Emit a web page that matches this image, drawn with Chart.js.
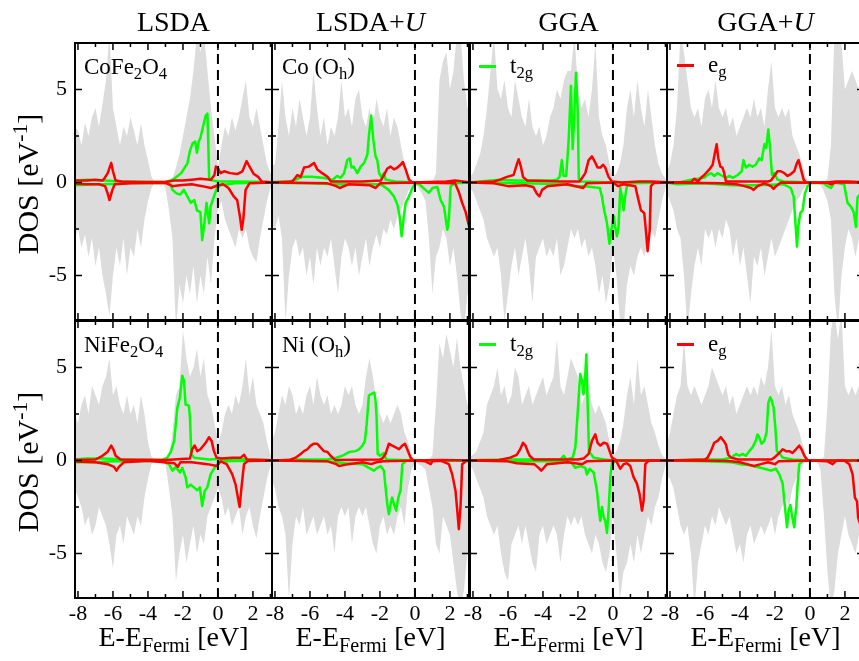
<!DOCTYPE html>
<html>
<head>
<meta charset="utf-8">
<title>DOS CoFe2O4 / NiFe2O4</title>
<script src="https://cdn.jsdelivr.net/npm/chart.js@4.4.1/dist/chart.umd.min.js"></script>
<style>
  html, body { margin: 0; padding: 0; background: #fff; overflow: hidden; }
  #fig { position: relative; width: 859px; height: 661px; overflow: hidden; }
  #fig canvas { position: absolute; left: 0; top: 0; }
  .t { position: absolute; font-family: "Liberation Serif", "Times New Roman", serif; color: #000; white-space: nowrap; line-height: 1; z-index: 2; }
  .t sub { font-size: 72%; vertical-align: baseline; position: relative; top: 0.3em; }
  .t sup { font-size: 72%; vertical-align: baseline; position: relative; top: -0.5em; }
  .ttl { top: 8px; width: 197px; text-align: center; font-size: 28px; }
  .xt { top: 623px; width: 197px; text-align: center; font-size: 28px; }
  .yl { left: 28px; font-size: 30px; transform: translate(-50%, -50%) rotate(-90deg); }
  .pl { font-size: 23px; }
  .seg { position: absolute; width: 17px; height: 3px; z-index: 2; }
</style>
</head>
<body>
<div id="fig">
  <canvas id="c0" width="880" height="661"></canvas>
  <canvas id="c1" width="880" height="661"></canvas>
  <canvas id="c2" width="880" height="661"></canvas>
  <canvas id="c3" width="880" height="661"></canvas>
  <canvas id="c4" width="880" height="661"></canvas>
  <canvas id="c5" width="880" height="661"></canvas>
  <canvas id="c6" width="880" height="661"></canvas>
  <canvas id="c7" width="880" height="661"></canvas>

  <div class="t ttl" style="left:75px">LSDA</div>
  <div class="t ttl" style="left:272px">LSDA+<i>U</i></div>
  <div class="t ttl" style="left:470px">GGA</div>
  <div class="t ttl" style="left:667px">GGA+<i>U</i></div>

  <div class="t yl" style="top:184px">DOS [eV<sup>-1</sup>]</div>
  <div class="t yl" style="top:462px">DOS [eV<sup>-1</sup>]</div>

  <div class="t xt" style="left:75px">E-E<sub>Fermi</sub> [eV]</div>
  <div class="t xt" style="left:272px">E-E<sub>Fermi</sub> [eV]</div>
  <div class="t xt" style="left:470px">E-E<sub>Fermi</sub> [eV]</div>
  <div class="t xt" style="left:667px">E-E<sub>Fermi</sub> [eV]</div>

  <div class="t pl" style="left:84px;top:55px">CoFe<sub>2</sub>O<sub>4</sub></div>
  <div class="t pl" style="left:282px;top:55px">Co (O<sub>h</sub>)</div>
  <div class="t pl" style="left:84px;top:333px">NiFe<sub>2</sub>O<sub>4</sub></div>
  <div class="t pl" style="left:282px;top:333px">Ni (O<sub>h</sub>)</div>

  <div class="seg" style="left:479px;top:65px;background:#00ff00"></div>
  <div class="t pl" style="left:510px;top:54px">t<sub>2g</sub></div>
  <div class="seg" style="left:677px;top:64px;background:#ff0000"></div>
  <div class="t pl" style="left:708px;top:53px">e<sub>g</sub></div>
  <div class="seg" style="left:479px;top:343px;background:#00ff00"></div>
  <div class="t pl" style="left:510px;top:332px">t<sub>2g</sub></div>
  <div class="seg" style="left:677px;top:343px;background:#ff0000"></div>
  <div class="t pl" style="left:708px;top:332px">e<sub>g</sub></div>
</div>

<script>
// energy grid for the total DOS (eV)
const energyGrid = [-8.2,-8.0,-7.8,-7.6,-7.4,-7.2,-7.0,-6.8,-6.6,-6.4,
  -6.2,-6.0,-5.8,-5.6,-5.4,-5.2,-5.0,-4.8,-4.6,-4.4,
  -4.2,-4.0,-3.8,-3.6,-3.4,-3.2,-3.0,-2.8,-2.6,-2.4,
  -2.2,-2.0,-1.8,-1.6,-1.4,-1.2,-1.0,-0.8,-0.6,-0.4,
  -0.2,0.0,0.2,0.4,0.6,0.8,1.0,1.2,1.4,1.6,
  1.8,2.0,2.2,2.4,2.6,2.8,3.0,3.2];

const xTickLabels = [-8, -6, -4, -2, 0, 2];
const yTickLabels = [-5, 0, 5];
const xTickMarks = [-8, -7, -6, -5, -4, -3, -2, -1, 0, 1, 2, 3];
const yTickMarks = [-5, -2.5, 0, 2.5, 5];
const fermiLevel = 0;

// ---- CoFe2O4, LSDA ----
const totUp_CoLSDA = [3.0,2.8,2.0,3.2,2.5,3.5,4.0,3.0,4.2,5.5, 8.0,4.0,3.0,2.0,3.0,2.5,3.5,2.8,2.0,3.2, 2.0,1.2,0.3,0,0,0,0,0,0.2,0.8, 1.5,2.5,3.5,4.5,6.0,8.0,7.0,8.0,6.0,4.0, 2.5,0.8,2.0,3.0,2.5,3.5,2.8,3.5,4.5,5.5, 3.5,3.0,4.0,3.0,2.0,1.0,0.5,0.3];
const totDn_CoLSDA = [-3.0,-2.5,-3.5,-2.8,-4.0,-3.0,-4.5,-3.5,-5.0,-6.0, -7.2,-5.0,-3.5,-4.5,-3.0,-5.0,-3.5,-4.0,-2.5,-3.5, -2.0,-1.0,-0.3,0,0,0,-0.3,-1.5,-3.0,-8.0, -5.5,-6.5,-5.0,-6.0,-4.5,-6.5,-5.0,-6.0,-4.0,-5.5, -3.0,-1.5,-1.0,-2.0,-2.5,-3.0,-3.5,-2.5,-3.0,-2.5, -3.5,-4.0,-4.3,-3.0,-2.0,-1.0,-0.3,-0.2];
const t2gUp_CoLSDA = [[-8.2,0.1],[-7.5,0.15],[-6.5,0.1],[-5.5,0.05],[-4,0.02],[-3,0.02],[-2.7,0.1],[-2.5,0.2],[-2.3,0.35],[-2.1,0.5],[-1.9,0.8],[-1.75,1.0],[-1.6,1.7],[-1.45,2.1],[-1.3,2.2],[-1.2,1.6],[-1.1,2.2],[-1.0,2.4],[-0.85,3.0],[-0.7,3.6],[-0.6,3.7],[-0.55,2.0],[-0.5,0.15],[-0.3,0.1],[0,0.05],[1,0.05],[2,0.03],[3.2,0]];
const t2gDn_CoLSDA = [[-8.2,-0.15],[-7,-0.1],[-6,-0.08],[-5,-0.03],[-3,-0.02],[-2.7,-0.1],[-2.6,-0.4],[-2.35,-0.6],[-2.15,-0.65],[-1.95,-0.4],[-1.75,-0.75],[-1.55,-1.1],[-1.35,-0.95],[-1.2,-1.5],[-1.0,-1.6],[-0.9,-3.1],[-0.8,-2.4],[-0.65,-1.1],[-0.57,-1.7],[-0.5,-2.2],[-0.42,-1.3],[-0.23,-0.75],[-0.05,-0.3],[0.15,-0.15],[1,-0.05],[3.2,0]];
const egUp_CoLSDA = [[-8.2,0.1],[-7.5,0.1],[-7,0.15],[-6.6,0.1],[-6.5,0.2],[-6.3,0.5],[-6.1,1.05],[-6.0,0.6],[-5.85,0.1],[-5.5,0.05],[-4.5,0.02],[-3,0.02],[-2.5,0.1],[-2,0.1],[-1.5,0.15],[-1,0.2],[-0.4,0.15],[-0.2,0.4],[-0.12,0.85],[-0.02,0.8],[0.15,0.5],[0.35,0.6],[0.7,0.5],[1.1,0.45],[1.4,0.6],[1.64,1.15],[1.75,0.95],[2.05,0.45],[2.3,0.3],[2.5,0.05],[3.2,0]];
const egDn_CoLSDA = [[-8.2,-0.05],[-7.5,-0.1],[-6.8,-0.1],[-6.45,-0.2],[-6.3,-0.6],[-6.2,-0.95],[-6.05,-0.45],[-5.9,-0.1],[-5,-0.05],[-3,-0.02],[-2.6,-0.2],[-2.2,-0.15],[-1.5,-0.1],[-0.9,-0.2],[-0.4,-0.3],[0,-0.15],[0.3,-0.1],[0.6,-0.3],[0.9,-0.75],[1.1,-0.95],[1.25,-1.8],[1.36,-2.55],[1.45,-2.0],[1.58,-0.4],[1.8,-0.05],[3.2,0]];

// ---- Co (Oh), LSDA+U ----
const totUp_CoLSDAU = [0.8,1.0,3.0,5.5,3.5,2.5,4.0,3.0,4.5,3.5, 2.5,3.5,6.0,4.0,2.5,3.5,2.0,3.0,2.5,3.5, 5.5,3.5,4.0,3.0,4.5,5.0,3.5,3.0,4.0,3.0, 4.5,3.5,3.0,4.0,2.5,3.5,3.0,2.0,1.0,0.4, 0.1,0,0,0,0,0,0,0.5,5.5,6.5, 7.0,5.0,6.0,8.0,8.0,5.5,4.0,4.0];
const totDn_CoLSDAU = [-2.2,-2.5,-1.8,-3.0,-7.5,-5.0,-3.5,-3.0,-4.0,-3.5, -5.0,-4.0,-5.5,-3.5,-4.5,-3.5,-4.0,-3.0,-4.5,-6.0, -4.0,-3.0,-3.5,-4.5,-3.5,-5.0,-4.0,-3.0,-4.5,-3.5, -2.8,-3.5,-2.5,-2.8,-2.0,-2.5,-1.8,-1.5,-1.0,-0.5, -0.2,-0.1,-0.3,-0.6,-1.0,-3.0,-6.0,-4.0,-3.5,-2.5, -3.0,-4.5,-3.5,-5.0,-7.0,-8.0,-6.0,-6.0];
const t2gUp_CoLSDAU = [[-8.2,0.02],[-7.2,0.05],[-6.8,0.15],[-6.45,0.3],[-5.9,0.3],[-5.3,0.25],[-4.7,0.15],[-4.45,0.35],[-4.25,0.25],[-4.05,0.5],[-3.87,1.2],[-3.73,1.3],[-3.62,0.8],[-3.5,0.85],[-3.3,0.5],[-3.1,0.85],[-2.9,1.05],[-2.72,1.5],[-2.63,2.5],[-2.5,3.6],[-2.38,2.3],[-2.25,1.4],[-2.15,1.2],[-2.05,0.5],[-1.9,0.25],[-1.77,0.5],[-1.68,0.15],[-1.1,0.05],[0,0],[3.2,0]];
const t2gDn_CoLSDAU = [[-8.2,-0.02],[-6,-0.05],[-4.5,-0.1],[-3,-0.1],[-2.2,-0.1],[-1.87,-0.15],[-1.5,-0.4],[-1.2,-0.75],[-1.0,-1.2],[-0.88,-1.8],[-0.76,-2.9],[-0.63,-1.8],[-0.53,-1.1],[-0.34,-0.75],[-0.15,-0.3],[0.05,-0.05],[0.25,-0.1],[0.6,-0.4],[0.8,-0.55],[1.0,-0.3],[1.28,-0.25],[1.47,-0.95],[1.66,-1.3],[1.85,-2.55],[1.94,-2.0],[2.04,-0.2],[2.3,-0.05],[3.2,0]];
const egUp_CoLSDAU = [[-8.2,0],[-7.0,0.05],[-6.72,0.4],[-6.53,0.3],[-6.34,0.8],[-6.06,0.85],[-5.77,1.05],[-5.58,0.7],[-5.3,0.5],[-5.0,0.3],[-4.8,0.05],[-3,0.05],[-1.95,0.1],[-1.77,0.4],[-1.58,0.75],[-1.39,0.85],[-1.2,0.7],[-1.0,0.8],[-0.82,0.95],[-0.69,1.1],[-0.53,0.7],[-0.34,0.15],[-0.15,0],[1.8,0.05],[2.3,0.1],[3.2,0]];
const egDn_CoLSDAU = [[-8.2,0],[-5,-0.05],[-4.5,-0.2],[-4.3,-0.3],[-3.8,-0.1],[-2.6,-0.15],[-2.25,-0.3],[-2.0,-0.05],[0,0],[2.3,-0.05],[2.5,-0.5],[2.7,-1.1],[2.9,-1.6],[3.1,-2.4],[3.2,-2.6]];

// ---- CoFe2O4, GGA ----
const totUp_CoGGA = [0.3,0.5,1.0,1.5,2.5,4.0,6.0,8.0,5.0,4.5, 5.5,4.0,3.5,5.5,4.5,3.5,3.0,4.5,3.0,2.5, 3.0,2.0,2.5,3.5,4.0,5.0,4.5,5.5,6.0,6.0, 8.0,5.0,4.0,4.5,3.5,5.0,7.5,3.5,2.5,2.0, 1.0,0.3,0.5,1.0,2.0,4.0,5.0,3.5,5.5,4.0, 3.0,5.0,3.5,2.0,1.0,0.5,0.2,0.1];
const totDn_CoGGA = [-0.3,-0.5,-1.0,-1.5,-2.0,-3.0,-3.5,-4.0,-3.5,-5.0, -7.5,-6.0,-4.5,-3.5,-5.0,-4.0,-3.0,-4.5,-6.5,-4.0, -3.5,-3.0,-4.0,-3.5,-4.0,-3.0,-5.0,-4.5,-3.5,-2.5, -3.0,-2.5,-3.5,-3.0,-4.0,-3.5,-4.5,-6.0,-5.0,-6.5, -5.5,-3.5,-5.0,-7.5,-8.0,-5.5,-4.5,-5.0,-4.0,-3.5, -4.0,-3.0,-2.5,-3.0,-2.0,-1.0,-0.3,-0.1];
const t2gUp_CoGGA = [[-8.2,0],[-7.6,0.05],[-6.5,0.15],[-5.5,0.1],[-4.5,0.1],[-3.5,0.1],[-3.2,0.15],[-3.05,0.3],[-2.92,1.2],[-2.82,0.35],[-2.67,0.35],[-2.53,2.3],[-2.4,5.2],[-2.3,1.8],[-2.22,3.4],[-2.11,5.9],[-2.02,4.0],[-1.95,0.2],[-1.8,0.05],[0,0],[3.2,0]];
const t2gDn_CoGGA = [[-8.2,0],[-5,-0.05],[-2.8,-0.1],[-2.25,-0.2],[-1.6,-0.2],[-0.75,-0.3],[-0.63,-0.75],[-0.5,-1.5],[-0.34,-2.2],[-0.2,-3.3],[-0.06,-2.4],[0.04,-1.8],[0.13,-2.4],[0.23,-2.9],[0.32,-2.4],[0.42,-0.3],[0.51,-0.75],[0.61,-1.5],[0.7,-0.75],[0.8,-0.2],[1.0,-0.05],[3.2,0]];
const egUp_CoGGA = [[-8.2,0],[-6.8,0.05],[-6.44,0.15],[-6.06,0.3],[-5.68,0.4],[-5.5,0.95],[-5.39,1.25],[-5.26,0.85],[-5.14,0.3],[-4.9,0.1],[-3,0.05],[-1.9,0.05],[-1.58,0.5],[-1.39,1.2],[-1.2,1.4],[-1.0,1.05],[-0.88,0.8],[-0.72,0.8],[-0.57,0.95],[-0.44,0.8],[-0.25,0.3],[-0.06,0.05],[0.5,0],[1.5,0.05],[2.2,0.05],[3.2,0]];
const egDn_CoGGA = [[-8.2,0],[-6.8,-0.05],[-6.0,-0.2],[-5,-0.15],[-4.55,-0.25],[-4.35,-0.6],[-4.2,-0.75],[-4.05,-0.4],[-3.75,-0.2],[-2.6,-0.1],[-1.7,-0.3],[-1.5,-0.05],[0,0],[0.3,-0.2],[0.6,-0.1],[1.28,-0.2],[1.41,-0.75],[1.6,-1.5],[1.79,-1.65],[1.9,-2.75],[1.98,-3.7],[2.1,-2.6],[2.17,-0.2],[2.35,-0.03],[3.2,0]];

// ---- CoFe2O4, GGA+U ----
const totUp_CoGGAU = [0.5,1.0,2.0,4.0,8.0,7.0,5.5,4.0,3.5,4.0, 3.0,4.5,5.0,4.0,5.5,4.0,3.5,4.0,3.0,3.5, 2.5,3.0,3.5,4.0,3.5,4.5,3.5,4.0,3.0,5.0, 6.5,4.0,3.5,4.0,3.5,4.0,2.5,2.0,1.5,0.8, 0.2,0,0,0,0,0,0.2,2.0,8.0,8.0, 7.5,5.0,5.5,6.0,5.5,5.0,4.0,4.0];
const totDn_CoGGAU = [-0.5,-1.0,-1.5,-2.5,-3.0,-5.0,-8.0,-6.0,-4.5,-3.5, -4.5,-2.5,-3.0,-2.5,-3.5,-2.5,-3.0,-2.0,-2.5,-4.0, -3.0,-4.5,-3.5,-5.0,-6.5,-4.0,-4.5,-3.5,-5.0,-4.0, -3.0,-4.0,-3.5,-3.0,-2.5,-2.0,-1.5,-1.0,-0.8,-0.4, -0.2,0,0,0,-0.1,-0.5,-1.0,-2.0,-6.0,-8.0, -5.0,-3.5,-2.5,-3.0,-4.0,-3.0,-2.5,-2.5];
const t2gUp_CoGGAU = [[-8.2,0],[-7.5,0],[-6.8,0.15],[-6.05,0.25],[-5.85,0.4],[-5.66,0.5],[-5.47,0.35],[-5.28,0.5],[-5.1,0.4],[-4.8,0.25],[-4.6,0.35],[-4.4,0.25],[-4.13,0.4],[-3.9,0.6],[-3.8,1.2],[-3.66,0.8],[-3.47,0.95],[-3.28,0.85],[-3.1,0.95],[-2.9,1.3],[-2.76,1.2],[-2.6,2.05],[-2.5,1.85],[-2.38,2.85],[-2.27,1.75],[-2.17,0.4],[-2.05,0.5],[-1.85,0.15],[-1.5,0.05],[0,0],[3.2,0]];
const t2gDn_CoGGAU = [[-8.2,0],[-7.6,-0.1],[-6,-0.05],[-4.5,-0.15],[-3,-0.15],[-1.5,-0.1],[-1.1,-0.3],[-0.93,-0.75],[-0.84,-2.0],[-0.74,-3.45],[-0.67,-2.4],[-0.55,-1.65],[-0.42,-1.5],[-0.29,-0.6],[-0.13,-0.2],[0.1,-0.02],[0.8,-0.05],[1.0,-0.2],[1.2,-0.3],[1.4,0],[1.95,-0.1],[2.15,-1.1],[2.34,-1.3],[2.5,-1.6],[2.63,-2.4],[2.72,-0.8],[3.2,-0.3]];
const egUp_CoGGAU = [[-8.2,0],[-6.8,0.02],[-6.6,0.2],[-6.4,0.05],[-6.23,0.25],[-6.04,0.4],[-5.75,0.7],[-5.56,0.95],[-5.43,1.6],[-5.33,2.05],[-5.24,1.3],[-5.12,0.85],[-5.0,0.8],[-4.9,0.5],[-4.8,0.05],[-2.4,0.05],[-2.23,0.1],[-2.04,0.35],[-1.85,0.6],[-1.66,0.6],[-1.47,0.5],[-1.28,0.35],[-1.09,0.45],[-0.9,0.6],[-0.74,1.05],[-0.65,1.2],[-0.51,0.7],[-0.36,0.15],[-0.23,0],[1.0,0],[1.5,0.05],[2.2,0.05],[3.2,0]];
const egDn_CoGGAU = [[-8.2,0],[-5,-0.05],[-4.2,-0.1],[-3.75,-0.2],[-3.37,-0.3],[-3.22,-0.4],[-3.0,-0.2],[-2.6,-0.05],[-2.23,-0.2],[-2.08,-0.35],[-1.94,-0.2],[-1.66,0],[1.0,-0.02],[1.2,-0.1],[1.5,0],[3.2,0]];

// ---- NiFe2O4, LSDA ----
const totUp_NiLSDA = [2.5,2.0,3.0,3.5,2.5,4.0,3.5,3.0,4.0,4.5, 5.5,3.5,4.0,3.0,2.5,3.5,2.5,3.0,2.0,3.5, 2.5,1.0,0.2,0,0,0,0,0.2,1.5,3.5, 4.0,7.0,5.5,4.5,5.0,6.0,4.5,5.5,3.5,3.0, 2.0,1.0,1.5,2.5,3.0,2.5,3.5,3.0,4.0,5.5, 3.5,4.5,3.0,2.5,2.0,1.0,0.3,0.2];
const totDn_NiLSDA = [-1.5,-2.0,-2.5,-3.5,-3.0,-4.0,-3.5,-2.5,-3.0,-3.5, -4.5,-5.8,-4.0,-3.5,-4.5,-3.0,-3.5,-4.0,-3.0,-3.5, -2.0,-1.0,-0.2,0,0,0,-0.2,-1.5,-3.0,-6.5, -5.0,-4.0,-5.5,-4.5,-3.5,-5.0,-4.0,-4.5,-3.0,-2.5, -2.0,-1.5,-2.0,-3.0,-2.5,-3.5,-3.0,-2.5,-4.0,-3.0, -2.5,-3.5,-4.2,-3.0,-2.0,-1.0,-0.3,-0.2];
const t2gUp_NiLSDA = [[-8.2,0.05],[-7.5,0.1],[-6.5,0.1],[-5.5,0.05],[-4.5,0.02],[-3.2,0.02],[-2.9,0.15],[-2.7,0.45],[-2.5,1.05],[-2.32,2.85],[-2.17,3.4],[-2.04,4.55],[-1.94,4.3],[-1.85,3.0],[-1.66,2.95],[-1.6,2.3],[-1.52,0.35],[-1.37,0.15],[-0.5,0.05],[0.5,0.1],[1.5,0.05],[3.2,0]];
const t2gDn_NiLSDA = [[-8.2,-0.1],[-7,-0.1],[-6,-0.05],[-5,-0.05],[-3.2,-0.02],[-2.8,-0.2],[-2.6,-0.55],[-2.42,-0.35],[-2.17,-0.65],[-2.04,-0.4],[-1.85,-0.9],[-1.75,-1.45],[-1.56,-1.3],[-1.37,-1.45],[-1.18,-1.6],[-1.03,-1.45],[-0.9,-2.45],[-0.76,-1.65],[-0.61,-1.45],[-0.42,-0.75],[-0.23,-0.45],[-0.04,-0.2],[0.15,-0.05],[3.2,0]];
const egUp_NiLSDA = [[-8.2,0.02],[-7,0.05],[-6.6,0.25],[-6.32,0.45],[-6.1,0.8],[-5.98,0.6],[-5.85,0.25],[-5.56,0.05],[-3,0.02],[-1.6,0.1],[-1.47,0.6],[-1.33,0.8],[-1.18,0.5],[-1.0,0.6],[-0.7,0.95],[-0.51,1.25],[-0.36,1.05],[-0.23,0.5],[-0.08,0.15],[0.2,0.1],[0.8,0.15],[1.3,0.15],[1.5,0.3],[1.65,0.05],[3.2,0]];
const egDn_NiLSDA = [[-8.2,-0.05],[-7,-0.1],[-6.3,-0.2],[-5.94,-0.35],[-5.8,-0.55],[-5.66,-0.35],[-5.37,-0.1],[-4,-0.02],[-2.5,-0.15],[-2.29,-0.35],[-2.15,-0.1],[-1.5,-0.1],[-0.6,-0.2],[-0.05,-0.3],[0.15,-0.05],[0.5,-0.2],[0.82,-0.75],[1.01,-1.3],[1.14,-2.0],[1.24,-2.5],[1.33,-1.6],[1.49,-0.2],[1.7,-0.03],[3.2,0]];

// ---- Ni (Oh), LSDA+U ----
const totUp_NiLSDAU = [1.0,1.5,2.5,3.5,3.0,4.0,3.5,2.5,3.0,2.5, 3.5,4.0,3.0,4.5,3.5,3.0,3.5,2.5,3.0,2.5, 3.0,4.0,3.5,4.0,3.0,2.5,3.0,4.5,5.5,4.5, 3.0,2.5,2.0,2.5,2.0,2.5,3.0,2.5,1.5,1.0, 0.3,0,0,0,0,0,0.3,3.0,6.3,5.5, 6.8,5.9,5.0,6.6,5.0,4.0,3.0,3.0];
const totDn_NiLSDAU = [-1.0,-1.5,-2.5,-3.0,-4.0,-7.5,-4.5,-3.0,-3.5,-2.5, -4.0,-3.5,-3.0,-4.0,-3.5,-3.0,-4.0,-3.5,-5.0,-3.0, -2.5,-3.0,-2.5,-4.5,-3.0,-2.5,-3.0,-2.5,-3.5,-4.5, -5.0,-3.5,-3.0,-4.0,-3.5,-4.0,-3.0,-2.5,-3.5,-1.5, -0.5,-0.1,-0.2,-0.3,-0.5,-1.5,-2.5,-4.5,-5.0,-3.0, -3.5,-4.0,-5.5,-7.0,-8.0,-7.0,-5.0,-5.0];
const t2gUp_NiLSDAU = [[-8.2,0],[-6.5,0.05],[-5,0.05],[-4.5,0.15],[-4.15,0.25],[-3.77,0.45],[-3.4,0.5],[-3.2,0.6],[-3.0,0.8],[-2.86,1.05],[-2.76,1.95],[-2.63,3.5],[-2.44,3.6],[-2.32,3.65],[-2.25,3.2],[-2.19,2.3],[-2.13,0.35],[-2.0,0.25],[-1.77,0.4],[-1.65,0.05],[0,0],[3.2,0]];
const t2gDn_NiLSDAU = [[-8.2,0],[-5,-0.05],[-4,-0.15],[-3,-0.2],[-2.53,-0.45],[-2.34,-0.55],[-2.15,-0.4],[-1.96,-0.3],[-1.77,-0.55],[-1.68,-1.45],[-1.58,-2.35],[-1.49,-2.9],[-1.39,-2.35],[-1.3,-2.0],[-1.2,-2.35],[-1.07,-2.7],[-0.95,-2.0],[-0.82,-1.6],[-0.72,-0.2],[-0.5,-0.02],[3.2,0]];
const egUp_NiLSDAU = [[-8.2,0],[-7.2,0.02],[-6.82,0.15],[-6.53,0.35],[-6.34,0.5],[-6.15,0.6],[-5.96,0.8],[-5.77,0.9],[-5.58,0.9],[-5.4,0.7],[-5.2,0.5],[-5.0,0.45],[-4.82,0.25],[-4.55,0.02],[-2.0,0.05],[-1.87,0.1],[-1.68,0.35],[-1.49,0.9],[-1.3,0.8],[-1.1,0.7],[-0.91,0.6],[-0.72,0.8],[-0.57,0.9],[-0.44,0.6],[-0.25,0.15],[-0.11,0],[1.5,0.02],[3.2,0]];
const egDn_NiLSDAU = [[-8.2,0],[-5,-0.05],[-4.5,-0.2],[-4.34,-0.3],[-3.8,-0.2],[-3,-0.1],[-2.5,-0.2],[-2.2,-0.1],[-1.8,-0.05],[0,0],[0.6,-0.05],[0.9,-0.2],[1.0,-0.05],[1.5,-0.02],[1.94,-0.2],[2.13,-0.75],[2.32,-1.65],[2.42,-2.7],[2.51,-3.7],[2.61,-2.4],[2.7,-0.2],[2.9,-0.05],[3.2,0]];

// ---- NiFe2O4, GGA ----
const totUp_NiGGA = [0.2,0.3,0.5,1.0,1.5,3.0,3.5,4.0,5.0,3.5, 4.0,3.0,3.5,5.0,4.5,3.0,3.5,4.0,3.0,3.5, 4.0,4.5,3.5,4.0,4.5,6.5,4.0,3.5,4.5,5.5, 5.0,4.5,3.0,3.5,4.0,3.0,2.5,3.0,2.5,2.0, 1.0,0.3,0.5,1.0,2.0,3.5,4.5,3.0,5.5,3.5, 4.0,3.0,2.0,1.5,0.8,0.3,0.1,0.1];
const totDn_NiGGA = [-0.2,-0.5,-1.0,-1.5,-2.0,-3.0,-3.5,-4.0,-3.5,-5.0, -6.0,-6.5,-4.5,-4.0,-3.5,-4.5,-3.5,-4.5,-5.5,-6.0, -4.0,-3.5,-4.5,-4.0,-3.5,-4.0,-5.5,-4.0,-3.0,-3.5, -3.0,-3.5,-3.0,-4.0,-4.5,-5.0,-4.0,-4.5,-5.5,-6.0, -5.0,-3.0,-5.0,-7.5,-6.0,-5.5,-4.5,-5.5,-4.0,-5.0, -4.0,-3.0,-3.5,-2.5,-2.0,-1.0,-0.3,-0.1];
const t2gUp_NiGGA = [[-8.2,0],[-7.6,0.02],[-6,0.05],[-4,0.05],[-3,0.05],[-2.82,0.25],[-2.65,0.05],[-2.3,0.15],[-2.15,0.7],[-2.02,2.5],[-1.87,4.65],[-1.77,4.3],[-1.68,3.55],[-1.58,4.65],[-1.52,5.7],[-1.45,3.2],[-1.37,0.5],[-1.26,0.35],[-1.1,0.15],[-0.5,0.05],[0,0],[3.2,0]];
const t2gDn_NiGGA = [[-8.2,0],[-5,-0.05],[-3,-0.05],[-2.4,-0.1],[-2.15,-0.4],[-1.87,-0.3],[-1.58,-0.4],[-1.49,-0.75],[-1.33,-0.45],[-1.1,-0.65],[-0.91,-1.65],[-0.8,-2.7],[-0.72,-3.25],[-0.63,-2.5],[-0.53,-3.05],[-0.44,-3.25],[-0.34,-3.9],[-0.25,-2.7],[-0.15,-0.9],[-0.06,-0.15],[0.2,-0.02],[3.2,0]];
const egUp_NiGGA = [[-8.2,0],[-6.5,0.02],[-5.87,0.15],[-5.5,0.3],[-5.3,0.6],[-5.14,0.95],[-5.0,0.8],[-4.88,0.5],[-4.76,0.25],[-4.53,0.05],[-2,0.05],[-1.68,0.1],[-1.39,0.35],[-1.2,1.05],[-1.01,1.4],[-0.88,0.95],[-0.72,0.8],[-0.53,0.95],[-0.34,0.9],[-0.19,0.5],[-0.06,0.15],[0.2,0],[3.2,0]];
const egDn_NiGGA = [[-8.2,0],[-6,-0.05],[-5.5,-0.15],[-4.5,-0.2],[-4.25,-0.4],[-4.1,-0.55],[-4.0,-0.45],[-3.77,-0.2],[-2.6,-0.1],[-1.75,-0.2],[-1.5,-0.05],[0,0],[0.2,-0.05],[0.42,-0.45],[0.61,-0.2],[0.8,-0.15],[0.99,-0.3],[1.18,-0.9],[1.37,-1.25],[1.52,-1.8],[1.66,-2.7],[1.75,-2.2],[1.85,-0.2],[2.05,0],[3.2,0]];

// ---- NiFe2O4, GGA+U ----
const totUp_NiGGAU = [0.8,1.5,2.5,3.5,4.0,6.5,4.0,3.5,4.0,3.5, 3.0,3.5,4.0,5.0,4.5,4.0,3.5,4.0,3.0,3.5, 2.5,3.0,3.5,4.0,3.5,4.0,3.5,4.5,4.0,5.0, 7.0,4.0,3.5,4.0,3.0,3.5,2.5,2.0,1.5,0.8, 0.2,0,0,0,0,0.2,3.0,7.0,8.0,6.5, 8.0,4.0,3.5,4.0,3.5,4.0,3.0,3.0];
const totDn_NiGGAU = [-0.8,-1.0,-1.5,-2.5,-3.5,-4.0,-3.5,-5.0,-8.0,-5.5, -4.5,-3.5,-4.0,-3.0,-3.5,-2.5,-3.0,-3.5,-3.0,-4.0, -5.0,-4.5,-5.5,-4.0,-3.5,-4.5,-4.0,-3.5,-4.0,-3.5, -3.0,-4.0,-3.0,-2.5,-2.0,-2.5,-1.5,-1.0,-0.5,-0.2, -0.1,0,0,0,-0.5,-3.0,-6.0,-8.0,-7.0,-5.0, -4.0,-3.0,-4.0,-4.5,-5.0,-4.0,-3.0,-3.0];
const t2gUp_NiGGAU = [[-8.2,0],[-7,0.02],[-6,0.05],[-5,0.05],[-4.5,0.15],[-4.23,0.35],[-4.04,0.25],[-3.85,0.35],[-3.66,0.25],[-3.47,0.5],[-3.28,0.7],[-3.1,1.05],[-3.0,1.4],[-2.9,1.25],[-2.76,0.9],[-2.61,1.05],[-2.48,1.5],[-2.38,3.1],[-2.27,3.4],[-2.19,3.25],[-2.08,2.85],[-1.98,1.8],[-1.89,0.5],[-1.75,0.4],[-1.56,0.15],[-1.0,0.05],[0,0],[3.2,0]];
const t2gDn_NiGGAU = [[-8.2,0],[-6,-0.05],[-4.5,-0.1],[-4,-0.2],[-3.5,-0.25],[-3,-0.35],[-2.61,-0.45],[-2.23,-0.55],[-1.94,-0.45],[-1.75,-0.75],[-1.56,-1.25],[-1.43,-2.5],[-1.31,-3.6],[-1.22,-2.7],[-1.12,-2.4],[-1.01,-3.05],[-0.9,-3.6],[-0.78,-2.5],[-0.7,-1.25],[-0.61,-0.2],[-0.4,-0.02],[3.2,0]];
const egUp_NiGGAU = [[-8.2,0],[-7,0.02],[-6,0.05],[-5.85,0.15],[-5.66,0.5],[-5.47,0.95],[-5.28,1.05],[-5.09,1.25],[-4.93,1.05],[-4.8,0.85],[-4.67,0.3],[-4.5,0.15],[-4.1,0.05],[-2.2,0.05],[-2.04,0.15],[-1.75,0.4],[-1.56,0.6],[-1.37,0.5],[-1.18,0.5],[-1.0,0.4],[-0.8,0.6],[-0.61,0.8],[-0.48,0.6],[-0.32,0.25],[-0.13,0],[1.0,0],[3.2,0]];
const egDn_NiGGAU = [[-8.2,0],[-5,-0.02],[-4.5,-0.05],[-4.0,-0.1],[-3.6,-0.2],[-3.2,-0.3],[-2.8,-0.2],[-2.4,-0.1],[-2.0,-0.2],[-1.8,-0.05],[0,0],[1.0,-0.05],[1.3,-0.2],[1.5,-0.02],[1.96,0],[2.25,-0.2],[2.44,-0.75],[2.57,-2.0],[2.69,-2.2],[2.76,-3.1],[2.9,-3.5],[3.2,-1.5]];

// axis ranges
const E_MIN = -8.17, E_MAX = 3.09;
const DOS_MIN = -7.4, DOS_MAX = 7.5;

// panel geometry
const CANVAS_W = 880, CANVAS_H = 661;
const colLeft = [75, 272, 470, 667];
const rowTop = [43, 321];
const panelW = 197, panelH = 277;
const X_AXIS_H = 32;

const grayFill = '#dcdcdc';
const t2gColor = '#00ff00';
const egColor = '#ff0000';
const tickFont = { family: 'Liberation Serif', size: 22 };

const panels = [
  { col: 0, row: 0, up: totUp_CoLSDA, dn: totDn_CoLSDA, t2gUp: t2gUp_CoLSDA, t2gDn: t2gDn_CoLSDA, egUp: egUp_CoLSDA, egDn: egDn_CoLSDA },
  { col: 1, row: 0, up: totUp_CoLSDAU, dn: totDn_CoLSDAU, t2gUp: t2gUp_CoLSDAU, t2gDn: t2gDn_CoLSDAU, egUp: egUp_CoLSDAU, egDn: egDn_CoLSDAU },
  { col: 2, row: 0, up: totUp_CoGGA, dn: totDn_CoGGA, t2gUp: t2gUp_CoGGA, t2gDn: t2gDn_CoGGA, egUp: egUp_CoGGA, egDn: egDn_CoGGA },
  { col: 3, row: 0, up: totUp_CoGGAU, dn: totDn_CoGGAU, t2gUp: t2gUp_CoGGAU, t2gDn: t2gDn_CoGGAU, egUp: egUp_CoGGAU, egDn: egDn_CoGGAU },
  { col: 0, row: 1, up: totUp_NiLSDA, dn: totDn_NiLSDA, t2gUp: t2gUp_NiLSDA, t2gDn: t2gDn_NiLSDA, egUp: egUp_NiLSDA, egDn: egDn_NiLSDA },
  { col: 1, row: 1, up: totUp_NiLSDAU, dn: totDn_NiLSDAU, t2gUp: t2gUp_NiLSDAU, t2gDn: t2gDn_NiLSDAU, egUp: egUp_NiLSDAU, egDn: egDn_NiLSDAU },
  { col: 2, row: 1, up: totUp_NiGGA, dn: totDn_NiGGA, t2gUp: t2gUp_NiGGA, t2gDn: t2gDn_NiGGA, egUp: egUp_NiGGA, egDn: egDn_NiGGA },
  { col: 3, row: 1, up: totUp_NiGGAU, dn: totDn_NiGGAU, t2gUp: t2gUp_NiGGAU, t2gDn: t2gDn_NiGGAU, egUp: egUp_NiGGAU, egDn: egDn_NiGGAU },
];

const toPoints = pairs => pairs.map(p => ({ x: p[0], y: p[1] }));
const gridPoints = vals => vals.map((v, i) => ({ x: energyGrid[i], y: v }));

// frame + inward ticks on all four sides
const framePlugin = {
  id: 'frame',
  afterDraw(chart) {
    const { ctx, chartArea: a } = chart;
    const xs = chart.scales.x, ys = chart.scales.y;
    ctx.save();
    ctx.strokeStyle = '#000';
    ctx.lineWidth = 1.5;
    ctx.beginPath();
    xTickMarks.forEach(v => {
      const px = xs.getPixelForValue(v);
      if (px < a.left + 1 || px > a.right - 1) return;
      const len = v % 2 === 0 ? 7 : 4;
      ctx.moveTo(px, a.bottom); ctx.lineTo(px, a.bottom - len);
      ctx.moveTo(px, a.top); ctx.lineTo(px, a.top + len);
    });
    yTickMarks.forEach(v => {
      const py = ys.getPixelForValue(v);
      const len = v % 5 === 0 ? 7 : 4;
      ctx.moveTo(a.left, py); ctx.lineTo(a.left + len, py);
      ctx.moveTo(a.right, py); ctx.lineTo(a.right - len, py);
    });
    ctx.stroke();
    ctx.lineWidth = 2;
    ctx.strokeRect(a.left, a.top, a.right - a.left, a.bottom - a.top);
    ctx.restore();
  }
};

function lineSet(points, color) {
  return { data: toPoints(points), borderColor: color, borderWidth: 2.5, pointRadius: 0, fill: false, tension: 0, borderJoinStyle: 'round' };
}

panels.forEach((p, i) => {
  const left = colLeft[p.col], top = rowTop[p.row];
  const right = left + panelW, bottom = top + panelH;
  const showX = p.row === 1, showY = p.col === 0;

  new Chart(document.getElementById('c' + i), {
    type: 'line',
    data: {
      datasets: [
        // first in the list is drawn on top
        { data: [{ x: fermiLevel, y: DOS_MIN }, { x: fermiLevel, y: DOS_MAX }], borderColor: '#000', borderWidth: 2, borderDash: [10, 6], pointRadius: 0, fill: false },
        lineSet(p.egUp, egColor),
        lineSet(p.egDn, egColor),
        lineSet(p.t2gUp, t2gColor),
        lineSet(p.t2gDn, t2gColor),
        { data: gridPoints(p.up), borderWidth: 0, borderColor: 'rgba(0,0,0,0)', backgroundColor: grayFill, fill: 'origin', pointRadius: 0, tension: 0 },
        { data: gridPoints(p.dn), borderWidth: 0, borderColor: 'rgba(0,0,0,0)', backgroundColor: grayFill, fill: 'origin', pointRadius: 0, tension: 0 },
      ]
    },
    options: {
      responsive: false,
      animation: false,
      events: [],
      layout: {
        padding: {
          left: showY ? 0 : left,
          right: CANVAS_W - right,
          top: top,
          bottom: showX ? CANVAS_H - bottom - X_AXIS_H : CANVAS_H - bottom
        }
      },
      plugins: { legend: { display: false }, tooltip: { enabled: false } },
      scales: {
        x: {
          type: 'linear', min: E_MIN, max: E_MAX, display: showX,
          grid: { display: false, drawTicks: false }, border: { display: false },
          ticks: { font: tickFont, color: '#000', padding: 3, autoSkip: false, maxRotation: 0 },
          afterBuildTicks: s => { s.ticks = xTickLabels.map(v => ({ value: v })); },
          afterFit: s => { if (showX) s.height = X_AXIS_H; }
        },
        y: {
          type: 'linear', min: DOS_MIN, max: DOS_MAX, display: showY,
          grid: { display: false, drawTicks: false }, border: { display: false },
          ticks: { font: tickFont, color: '#000', padding: 8 },
          afterBuildTicks: s => { s.ticks = yTickLabels.map(v => ({ value: v })); },
          afterFit: s => { if (showY) s.width = left; }
        }
      }
    },
    plugins: [framePlugin]
  });
});
</script>
</body>
</html>
